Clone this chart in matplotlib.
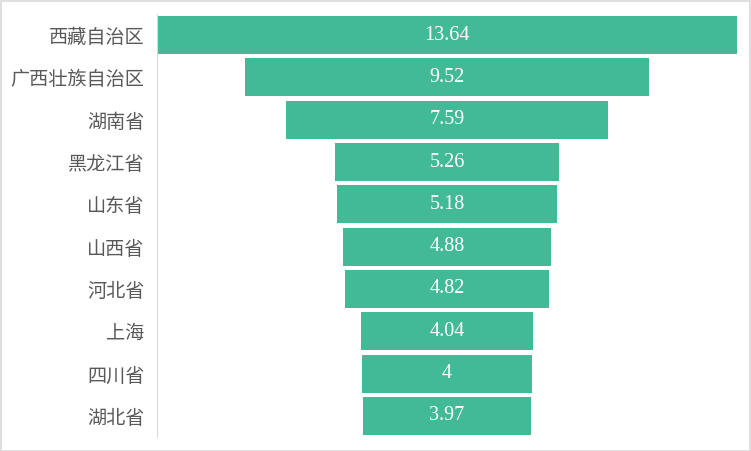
import matplotlib.pyplot as plt
from matplotlib.patches import Rectangle

plt.rcParams['font.family'] = ['Noto Sans CJK SC', 'DejaVu Sans']

provinces = ["西藏自治区", "广西壮族自治区", "湖南省", "黑龙江省", "山东省",
             "山西省", "河北省", "上海", "四川省", "湖北省"]
values = [13.64, 9.52, 7.59, 5.26, 5.18, 4.88, 4.82, 4.04, 4, 3.97]
value_labels = ["13.64", "9.52", "7.59", "5.26", "5.18", "4.88", "4.82", "4.04", "4", "3.97"]

bar_color = "#43BA97"

fig = plt.figure(figsize=(7.51, 4.51), dpi=100)
ax = fig.add_axes([157 / 751, 14 / 451, 580 / 751, 423 / 451])

vmax = max(values)
ypos = list(range(len(values)))
lefts = [(vmax - v) / 2 for v in values]
ax.barh(ypos, values, left=lefts, height=0.9, color=bar_color)

for y, v, lab in zip(ypos, values, value_labels):
    ax.text(vmax / 2, y, lab, ha="center", va="center", color="white",
            fontsize=14.5, family=["Liberation Serif", "DejaVu Serif"])

ax.set_xlim(0, vmax)
ax.set_ylim(len(values) - 0.5, -0.5)
ax.set_yticks(ypos)
ax.set_yticklabels(provinces, fontsize=13.8, color="#595959")
ax.tick_params(axis="y", length=0, pad=9)
ax.set_xticks([])
for s in ["top", "right", "bottom"]:
    ax.spines[s].set_visible(False)
ax.spines["left"].set_color("#d9d9d9")

# outer chart border
fig.patches.append(Rectangle((0.5 / 751, 0.5 / 451), 1 - 1.5 / 751, 1 - 1.5 / 451,
                             transform=fig.transFigure, fill=False,
                             edgecolor="#d9d9d9", linewidth=1.2))

fig.savefig("out.png", dpi=100)
